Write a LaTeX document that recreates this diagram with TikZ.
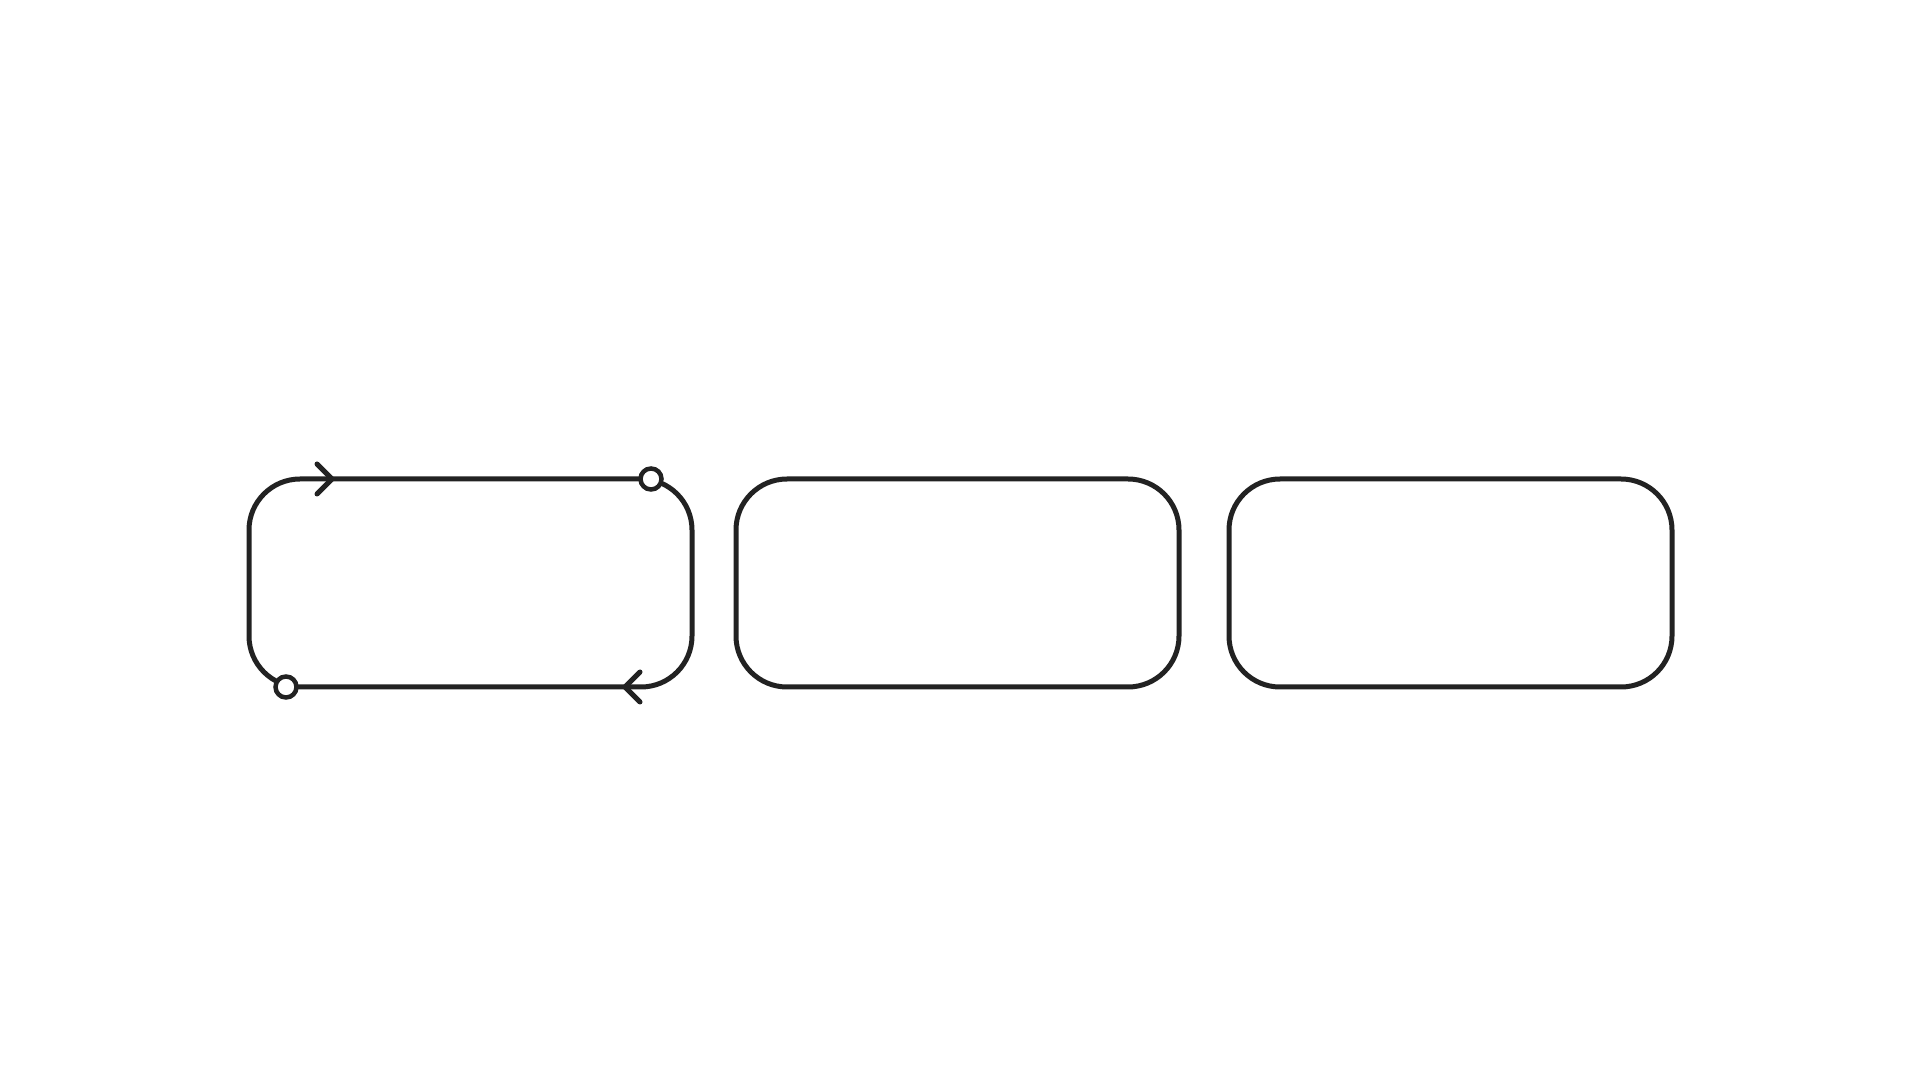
\documentclass[tikz,border=0pt]{standalone}
\usetikzlibrary{positioning}

\definecolor{ink}{HTML}{222222}
\tikzset{
  panel/.style={draw=ink, line width=5pt, rounded corners=51pt, minimum width=443pt, minimum height=208pt, inner sep=0pt, outer sep=0pt},
  port/.style={circle, draw=ink, fill=white, line width=4.5pt, minimum size=21pt, inner sep=0pt},
  chev/.style={draw=ink, line width=5pt, line cap=round, line join=miter}
}

\begin{document}
\begin{tikzpicture}[x=1pt,y=1pt]
\useasboundingbox (0,0) rectangle (1920,1080);

\node[panel] (p1) at (470.5,497) {};
\node[panel, right=44pt of p1] (p2) {};
\node[panel, right=50pt of p2] (p3) {};

% direction marks on the first panel
\coordinate (arrTop) at ([xshift=83pt]p1.north west);
\coordinate (arrBot) at ([xshift=-67pt]p1.south east);
\draw[chev] (arrTop) ++(-15,15) -- (arrTop) -- ++(-15,-15);
\draw[chev] (arrBot) ++(15,15) -- (arrBot) -- ++(15,-15);

% open ends
\node[port] (endTop) at ([xshift=-41pt]p1.north east) {};
\node[port] (endBot) at ([xshift=37pt]p1.south west) {};
\end{tikzpicture}
\end{document}
